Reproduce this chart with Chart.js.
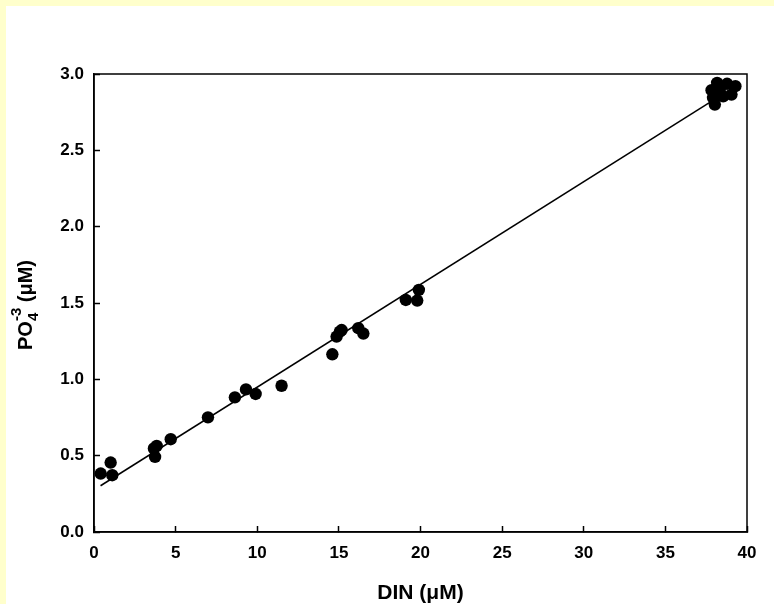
<!DOCTYPE html>
<html>
<head>
<meta charset="utf-8">
<script src="https://cdn.jsdelivr.net/npm/chart.js@4"></script>
<style>
  html, body { margin: 0; padding: 0; background: #ffffcc; }
  #wrap { width: 774px; height: 604px; position: relative; }
  canvas { display: block; }
</style>
</head>
<body>
<div id="wrap"><canvas id="c" width="774" height="604"></canvas></div>
<script>
// ---- data ----
const dinValues = [0.41, 1.02, 1.12, 3.67, 3.84, 3.74, 4.70, 6.98, 8.63, 9.31, 9.90, 11.49,
  14.60, 14.86, 15.06, 15.17, 16.19, 16.50, 19.10, 19.80, 19.90,
  37.83, 37.92, 38.03, 38.17, 38.33, 38.54, 38.78, 39.05, 39.29];
const po4Values = [0.383, 0.455, 0.372, 0.547, 0.564, 0.492, 0.608, 0.751, 0.882, 0.934, 0.904, 0.958,
  1.164, 1.280, 1.312, 1.323, 1.335, 1.300, 1.520, 1.516, 1.586,
  2.894, 2.844, 2.800, 2.942, 2.898, 2.854, 2.936, 2.865, 2.920];
const fitX = [0.4, 38.5];
const fitY = [0.303, 2.867];
const xTicks = [0, 5, 10, 15, 20, 25, 30, 35, 40];
const yTicks = [0.0, 0.5, 1.0, 1.5, 2.0, 2.5, 3.0];
const xTitle = 'DIN (\u03BCM)';
const yTitleParts = { main: 'PO', sub: '4', sup: '-3', rest: ' (\u03BCM)' };

const FONT = '"Liberation Sans", Arial, Helvetica, sans-serif';

const points = dinValues.map((x, i) => ({ x: x, y: po4Values[i] }));
const fitLine = fitX.map((x, i) => ({ x: x, y: fitY[i] }));

const framePlugin = {
  id: 'frame',
  beforeDraw(chart) {
    const c = chart.ctx;
    c.save();
    c.fillStyle = '#ffffcc';
    c.fillRect(0, 0, chart.width, chart.height);
    c.fillStyle = '#ffffff';
    c.fillRect(6, 6, chart.width - 6, chart.height - 6);
    c.restore();
  },
  afterDraw(chart) {
    const c = chart.ctx;
    const a = chart.chartArea;
    c.save();
    c.strokeStyle = '#000';
    c.lineWidth = 1.5;
    c.strokeRect(a.left, a.top, a.right - a.left, a.bottom - a.top);
    // x title
    c.fillStyle = '#000';
    c.font = 'bold 21px ' + FONT;
    c.textAlign = 'center';
    c.textBaseline = 'alphabetic';
    c.fillText(xTitle, (a.left + a.right) / 2, 599);
    // y title (rotated, with sub/superscript)
    const yc = 305;
    c.translate(32, 0);
    c.rotate(-Math.PI / 2);
    c.textAlign = 'left';
    const bigF = 'bold 20px ' + FONT;
    const smallF = 'bold 15px ' + FONT;
    c.font = bigF;
    const wMain = c.measureText(yTitleParts.main).width;
    const wRest = c.measureText(yTitleParts.rest).width;
    c.font = smallF;
    const wSub = c.measureText(yTitleParts.sub).width;
    const wSup = c.measureText(yTitleParts.sup).width;
    const total = wMain + Math.max(wSub, wSup) + wRest;
    let x0 = -(yc + total / 2); // rotated coordinate: -screenY
    c.font = bigF;
    c.fillText(yTitleParts.main, x0, 0);
    c.font = smallF;
    c.fillText(yTitleParts.sub, x0 + wMain, 6);
    c.fillText(yTitleParts.sup, x0 + wMain, -11);
    c.font = bigF;
    c.fillText(yTitleParts.rest, x0 + wMain + Math.max(wSub, wSup), 0);
    c.restore();
  }
};

new Chart(document.getElementById('c'), {
  type: 'scatter',
  data: {
    datasets: [
      {
        type: 'line',
        data: fitLine,
        borderColor: '#000',
        borderWidth: 1.5,
        pointRadius: 0,
        fill: false,
        tension: 0,
        order: 2
      },
      {
        data: points,
        backgroundColor: '#000',
        borderColor: '#000',
        borderWidth: 0,
        pointRadius: 6.2,
        pointHoverRadius: 6.2,
        order: 1
      }
    ]
  },
  options: {
    responsive: false,
    animation: false,
    events: [],
    layout: { padding: { top: 74, right: 27, left: 0, bottom: 0 } },
    plugins: { legend: { display: false }, tooltip: { enabled: false }, title: { display: false } },
    scales: {
      x: {
        type: 'linear',
        min: 0, max: 40,
        afterFit(s) { s.height = 72; },
        afterBuildTicks(s) { s.ticks = xTicks.map(v => ({ value: v })); },
        grid: { drawOnChartArea: false, drawTicks: true, tickLength: -6, tickWidth: 1.5, tickColor: '#000' },
        border: { display: true, color: '#000', width: 1.5 },
        ticks: {
          color: '#000', padding: 17, maxRotation: 0, autoSkip: false,
          font: { family: FONT, size: 17, weight: 'bold' },
          callback: v => String(v)
        },
        title: { display: false }
      },
      y: {
        type: 'linear',
        min: 0, max: 3,
        afterFit(s) { s.width = 94; },
        afterBuildTicks(s) { s.ticks = yTicks.map(v => ({ value: v })); },
        grid: { drawOnChartArea: false, drawTicks: true, tickLength: -6, tickWidth: 1.5, tickColor: '#000' },
        border: { display: true, color: '#000', width: 1.5 },
        ticks: {
          color: '#000', padding: 16, autoSkip: false,
          font: { family: FONT, size: 17, weight: 'bold' },
          callback: v => Number(v).toFixed(1)
        },
        title: { display: false }
      }
    }
  },
  plugins: [framePlugin]
});
</script>
</body>
</html>
